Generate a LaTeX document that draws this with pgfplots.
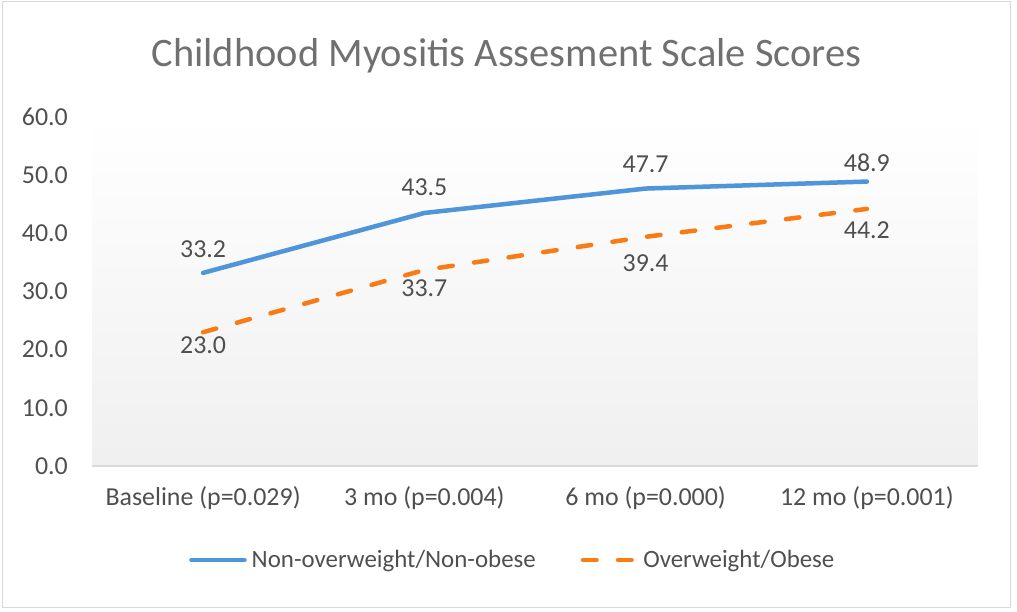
\documentclass[border=0pt]{standalone}
\usepackage{fontspec}
\setmainfont{Carlito}
\usepackage{pgfplots}
\usepackage{pgfplotstable}
\pgfplotsset{compat=1.18}
\definecolor{blueL}{HTML}{4E95D9}
\definecolor{orangeL}{HTML}{F97B16}
\definecolor{txt}{HTML}{4F4F4F}
\definecolor{ttl}{HTML}{707070}
\pgfplotstableread{
x y lab dy
0 33.2 33.2 23.5
1 43.5 43.5 25.5
2 47.7 47.7 24.7
3 48.9 48.9 18.5
}\blueT
\pgfplotstableread{
x y lab dy
0 23.0 23.0 -12.5
1 33.7 33.7 -18
2 39.4 39.4 -26
3 44.2 44.2 -21
}\orangeT
\begin{document}
\begin{tikzpicture}
\path[use as bounding box] (-92.5bp,-146bp) rectangle (924.5bp,466bp);
\draw[black!15, line width=1bp] (-89.8bp,-141bp) rectangle (918.2bp,464bp);
\begin{axis}[
  scale only axis, width=885bp, height=349bp,
  xmin=-0.5, xmax=3.5, ymin=0, ymax=60,
  axis x line*=bottom, axis y line*=left,
  x axis line style={draw=black!15, line width=1.3bp, -},
  y axis line style={draw=none},
  xtick={0,1,2,3},
  xticklabels={Baseline (p=0.029), 3 mo (p=0.004), 6 mo (p=0.000), 12 mo (p=0.001)},
  ytick={0,10,...,60},
  yticklabels={0.0,10.0,20.0,30.0,40.0,50.0,60.0},
  major tick length=0pt,
  tick style={draw=none},
  ticklabel style={font=\fontsize{26}{30}\selectfont, text=txt, inner sep=0pt},
  yticklabel style={anchor=east, xshift=-24.5bp},
  xticklabel style={anchor=center, yshift=-32bp},
  axis background/.style={top color=white, bottom color=black!6},
  clip=false,
  point meta=explicit symbolic,
  nodes near coords,
  visualization depends on={\thisrow{dy}\as\dy},
  every node near coord/.append style={font=\fontsize{26}{30}\selectfont, text=txt,
    inner sep=0pt, anchor=center, yshift=\dy bp},
  legend columns=2,
  legend image code/.code={\draw[#1] (0bp,0bp) -- (53bp,0bp);},
  legend style={at={(0.1093,-0.2693)}, anchor=west, draw=none, fill=none,
    inner sep=0pt, outer sep=0pt, font=\fontsize{25}{30}\selectfont, text=txt,
    nodes={inner sep=0pt},
    /tikz/every odd column/.append style={column sep=5bp},
    /tikz/every even column/.append style={column sep=45bp}},
  legend cell align=left,
]
\addplot[blueL, line width=4.5bp, line cap=round, line join=round]
  table[x=x, y=y, meta=lab] {\blueT};
\addlegendentry{Non-overweight/Non-obese}
\addplot[orangeL, line width=4.5bp, line cap=round, line join=round,
  dash pattern=on 13.5bp off 21.5bp]
  table[x=x, y=y, meta=lab] {\orangeT};
\addlegendentry{Overweight/Obese}
\end{axis}
\node[font=\fontsize{40.6}{48}\selectfont, text=ttl, anchor=base] at (414bp,399bp) {Childhood Myositis Assesment Scale Scores};
\end{tikzpicture}
\end{document}
